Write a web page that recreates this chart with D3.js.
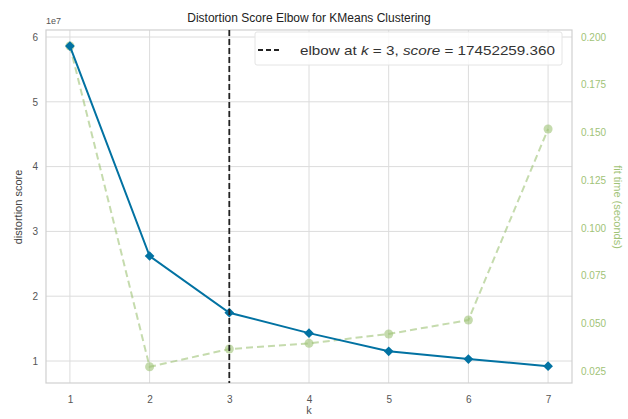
<!DOCTYPE html>
<html>
<head>
<meta charset="utf-8">
<script src="https://cdn.jsdelivr.net/npm/d3@7"></script>
<style>
  body { margin: 0; background: #fff; }
  text { font-family: "Liberation Sans", Arial, sans-serif; }
</style>
</head>
<body>
<svg id="chart" width="628" height="419"></svg>
<script>
// Data.
const kValues = [1, 2, 3, 4, 5, 6, 7];
const distortion = [5.86e7, 2.62e7, 1.745e7, 1.43e7, 1.15e7, 1.03e7, 0.92e7];
const fitTimes = [0.1953, 0.0272, 0.0365, 0.0395, 0.0444, 0.0517, 0.1518];
const leftTicks = [1, 2, 3, 4, 5, 6];
const rightTicks = [0.025, 0.050, 0.075, 0.100, 0.125, 0.150, 0.175, 0.200];
const elbowK = 3;
const elbowScore = "17452259.360";

const blue = "#0272a2";
const green = "#9fc377";

let svg = d3.select("#chart");

let plot = { left: 46, right: 572, top: 30, bottom: 383 };

let xScale = d3.scaleLinear().domain([0.7, 7.3]).range([plot.left, plot.right]);
let yScale = d3.scaleLinear().domain([1, 6]).range([361, 37]);
let y2Scale = d3.scaleLinear().domain([0.025, 0.200]).range([371, 37]);

// Grid lines.
let grid = svg.append("g");
kValues.forEach(k => {
    grid.append("line")
        .attr("x1", xScale(k)).attr("x2", xScale(k))
        .attr("y1", plot.top).attr("y2", plot.bottom)
        .attr("stroke", "#dcdcdc").attr("stroke-width", 1);
});
leftTicks.forEach(t => {
    grid.append("line")
        .attr("x1", plot.left).attr("x2", plot.right)
        .attr("y1", yScale(t)).attr("y2", yScale(t))
        .attr("stroke", "#dcdcdc").attr("stroke-width", 1);
});

// Frame.
svg.append("rect")
    .attr("x", plot.left).attr("y", plot.top)
    .attr("width", plot.right - plot.left).attr("height", plot.bottom - plot.top)
    .attr("fill", "none").attr("stroke", "#d0d0d0").attr("stroke-width", 1.2);

// Axes (text only, matplotlib style).
let xAxis = svg.append("g")
    .attr("transform", "translate(0," + plot.bottom + ")")
    .call(d3.axisBottom(xScale).tickValues(kValues).tickFormat(d3.format("d")).tickSize(0).tickPadding(13));
xAxis.select(".domain").remove();
xAxis.selectAll("text").attr("font-size", 10).attr("fill", "#555");

let yAxis = svg.append("g")
    .attr("transform", "translate(" + plot.left + ",0)")
    .call(d3.axisLeft(yScale).tickValues(leftTicks).tickFormat(d3.format("d")).tickSize(0).tickPadding(8));
yAxis.select(".domain").remove();
yAxis.selectAll("text").attr("font-size", 10).attr("fill", "#555");

let y2Axis = svg.append("g")
    .attr("transform", "translate(" + plot.right + ",0)")
    .call(d3.axisRight(y2Scale).tickValues(rightTicks).tickFormat(d3.format(".3f")).tickSize(0).tickPadding(9));
y2Axis.select(".domain").remove();
y2Axis.selectAll("text").attr("font-size", 10).attr("fill", green);

// Axis labels and title.
svg.append("text").attr("x", 46).attr("y", 24).attr("font-size", 9).attr("fill", "#555").text("1e7");
svg.append("text").attr("x", 309).attr("y", 22).attr("text-anchor", "middle")
    .attr("font-size", 12).attr("fill", "#222").text("Distortion Score Elbow for KMeans Clustering");
svg.append("text").attr("x", 309).attr("y", 414).attr("text-anchor", "middle")
    .attr("font-size", 11).attr("fill", "#555").text("k");
svg.append("text").attr("transform", "translate(22,207) rotate(-90)").attr("text-anchor", "middle")
    .attr("font-size", 11).attr("fill", "#444").text("distortion score");
svg.append("text").attr("transform", "translate(614,207) rotate(90)").attr("text-anchor", "middle")
    .attr("font-size", 11).attr("fill", green).text("fit time (seconds)");

// Fit time line (dashed, light green).
let timePoints = kValues.map((k, i) => [xScale(k), y2Scale(fitTimes[i])]);
svg.append("path")
    .attr("d", d3.line()(timePoints))
    .attr("fill", "none").attr("stroke", green).attr("stroke-opacity", 0.6)
    .attr("stroke-width", 2).attr("stroke-dasharray", "7,4");
svg.selectAll(".timeDot").data(timePoints).enter().append("circle")
    .attr("cx", d => d[0]).attr("cy", d => d[1]).attr("r", 4.5)
    .attr("fill", green).attr("fill-opacity", 0.6);

// Distortion line.
let distPoints = kValues.map((k, i) => [xScale(k), yScale(distortion[i] / 1e7)]);
svg.append("path")
    .attr("d", d3.line()(distPoints))
    .attr("fill", "none").attr("stroke", blue).attr("stroke-width", 2);
svg.selectAll(".distDot").data(distPoints).enter().append("path")
    .attr("d", d3.symbol(d3.symbolDiamond2, 60)())
    .attr("transform", d => "translate(" + d[0] + "," + d[1] + ")")
    .attr("fill", blue);

// Elbow line.
svg.append("line")
    .attr("x1", xScale(elbowK)).attr("x2", xScale(elbowK))
    .attr("y1", plot.top).attr("y2", plot.bottom)
    .attr("stroke", "#222").attr("stroke-width", 1.8).attr("stroke-dasharray", "6,3");

// Legend.
let legend = svg.append("g").attr("transform", "translate(255,32)");
legend.append("rect")
    .attr("width", 307).attr("height", 33).attr("rx", 2)
    .attr("fill", "#fff").attr("fill-opacity", 0.85).attr("stroke", "#e4e4e4");
legend.append("line")
    .attr("x1", 3).attr("x2", 27).attr("y1", 18).attr("y2", 18)
    .attr("stroke", "#222").attr("stroke-width", 2).attr("stroke-dasharray", "5,3");
let legendText = legend.append("text").attr("x", 45).attr("y", 23)
    .attr("font-size", 13.5).attr("fill", "#333")
    .attr("textLength", 255).attr("lengthAdjust", "spacingAndGlyphs");
legendText.append("tspan").text("elbow at ");
legendText.append("tspan").attr("font-style", "italic").text("k");
legendText.append("tspan").text(" = " + elbowK + ", ");
legendText.append("tspan").attr("font-style", "italic").text("score");
legendText.append("tspan").text(" = " + elbowScore);
</script>
</body>
</html>
